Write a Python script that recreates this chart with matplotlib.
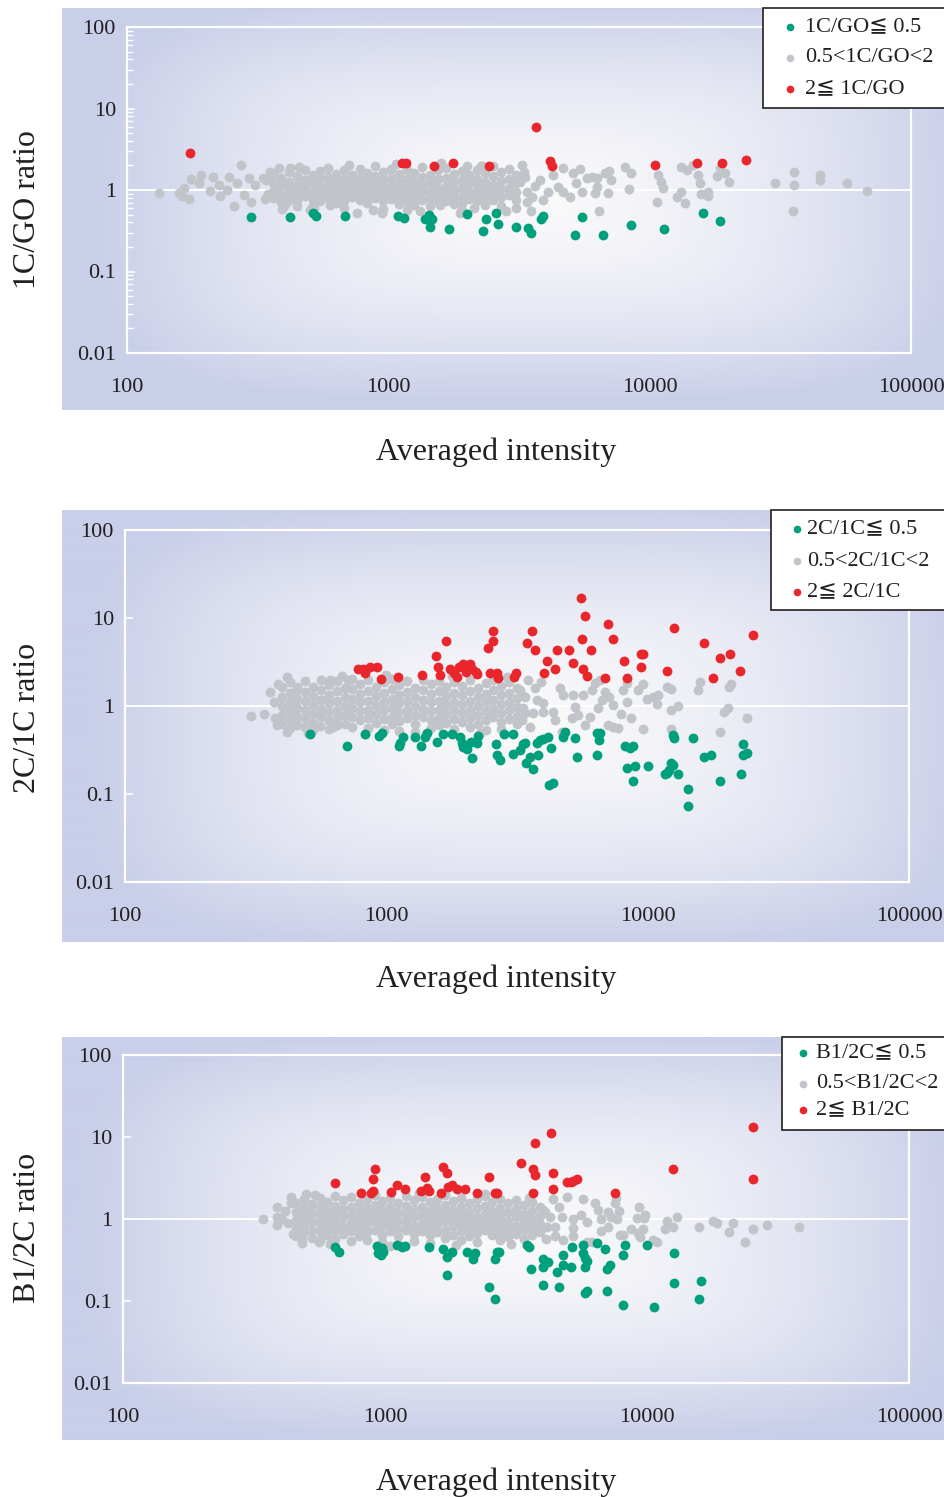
import numpy as np
import matplotlib
matplotlib.use("Agg")
import matplotlib.pyplot as plt
from matplotlib.lines import Line2D
from matplotlib.patches import Rectangle
from matplotlib.ticker import LogLocator, NullLocator

# ---------------------------------------------------------------
# DATA (log10 of averaged intensity, log10 of ratio)
# ---------------------------------------------------------------
x_ticks = [100, 1000, 10000, 100000]
x_tick_labels = ["100", "1000", "10000", "100000"]
y_ticks = [0.01, 0.1, 1, 10, 100]
y_tick_labels = ["0.01", "0.1", "1", "10", "100"]

# ---------- Panel 1 : 1C/GO ----------
p1_red_lx = [2.242, 3.052, 3.068, 3.175, 3.248, 3.385, 3.565, 3.619, 3.627, 4.021, 4.181, 4.277, 4.369]
p1_red_ly = [0.454, 0.331, 0.331, 0.294, 0.331, 0.294, 0.773, 0.356, 0.294, 0.307, 0.331, 0.331, 0.368]
p1_green_lx = [2.475, 2.624, 2.712, 2.723, 2.834, 3.037, 3.060, 3.140, 3.156, 3.167, 3.160, 3.232, 3.301,
               3.374, 3.412, 3.420, 3.362, 3.489, 3.535, 3.546, 3.584, 3.592, 3.741, 3.714, 3.822, 3.929,
               4.055, 4.204, 4.269]
p1_green_ly = [-0.331, -0.331, -0.282, -0.319, -0.319, -0.319, -0.344, -0.356, -0.307, -0.356, -0.454, -0.479,
               -0.294, -0.356, -0.282, -0.417, -0.503, -0.454, -0.466, -0.528, -0.356, -0.319, -0.331, -0.552,
               -0.552, -0.429, -0.479, -0.282, -0.380]
p1_gray_lx = [2.122, 2.199, 2.210, 2.237, 2.218, 2.245, 2.283, 2.276, 2.318, 2.329, 2.352, 2.356, 2.390, 2.383,
              2.409, 2.436, 2.421, 2.448, 2.475, 2.467, 2.490, 2.520, 2.528, 2.547, 2.563, 2.593, 2.624, 2.612,
              2.639, 3.301, 3.355, 2.880, 2.976, 2.777, 3.274, 3.328, 3.198, 3.072, 2.716,
              3.512, 3.523, 3.504, 3.531, 3.550, 3.546, 3.581, 3.592, 3.630, 3.669, 3.611, 3.649, 3.669, 3.707,
              3.695, 3.734, 3.718, 3.741, 3.760, 3.780, 3.799, 3.799, 3.791, 3.806, 3.829, 3.845, 3.852, 3.841,
              3.906, 3.929, 3.921, 4.028, 4.032, 4.044, 4.051, 4.105, 4.120, 4.120, 4.135, 4.143, 4.166, 4.185,
              4.193, 4.197, 4.223, 4.223, 4.258, 4.269, 4.289, 4.304, 4.480, 4.553, 4.553, 4.549, 4.652, 4.652,
              4.755, 4.832,
              2.53, 2.54, 2.58, 2.60, 2.66, 2.70, 2.85, 2.94, 3.03, 3.12, 3.20, 3.36, 3.45, 3.52, 3.53, 3.56]
p1_gray_ly = [-0.037, -0.037, -0.074, -0.110, 0.025, 0.135, 0.184, 0.086, -0.012, 0.160, 0.061, -0.074, 0.160, 0.0,
              -0.196, 0.307, 0.086, -0.061, -0.147, 0.147, 0.061, 0.147, -0.110, 0.221, 0.0, -0.233, 0.270, -0.147,
              -0.110, 0.294, 0.294, -0.282, -0.282, -0.184, -0.282, -0.221, -0.184, -0.245, -0.221,
              0.307, 0.160, 0.098, -0.025, -0.086, -0.258, 0.123, -0.123, 0.184, 0.270, -0.025, 0.037, -0.025, 0.209,
              -0.086, 0.258, 0.086, -0.025, 0.147, 0.160, 0.147, 0.037, -0.037, -0.258, 0.209, 0.233, 0.123, -0.037,
              0.282, 0.209, 0.012, -0.147, 0.184, 0.098, 0.025, -0.086, 0.282, -0.025, -0.160, 0.245, 0.307, 0.184,
              0.086, -0.049, -0.025, -0.074, 0.172, 0.270, 0.209, 0.098, 0.086, 0.221, 0.061, -0.258, 0.184, 0.123,
              0.086, -0.012,
              0.12, -0.05, 0.27, -0.20, 0.28, -0.24, 0.31, -0.25, 0.32, -0.26, 0.33, 0.30, -0.26, 0.22, -0.15, 0.05]
# dense core of the grey cloud: (log10 intensity, log10 ratios)
p1_gray_core = [
    (2.56, [0.20, 0.08, -0.02, -0.10]), (2.59, [0.15, 0.05, -0.06, -0.15]),
    (2.62, [0.22, 0.10, 0.00, -0.08]), (2.65, [0.17, 0.06, -0.04, -0.12, -0.20]),
    (2.68, [0.25, 0.12, 0.02, -0.07]), (2.71, [0.19, 0.08, -0.02, -0.11, -0.18]),
    (2.74, [0.23, 0.13, 0.03, -0.06, -0.14]), (2.77, [0.27, 0.16, 0.06, -0.03, -0.10]),
    (2.80, [0.20, 0.10, 0.00, -0.08, -0.16]), (2.83, [0.24, 0.14, 0.04, -0.05, -0.13, -0.22]),
    (2.86, [0.18, 0.08, -0.01, -0.09]), (2.89, [0.26, 0.15, 0.05, -0.04, -0.12]),
    (2.92, [0.21, 0.11, 0.01, -0.07, -0.16]), (2.95, [0.29, 0.17, 0.07, -0.02, -0.10]),
    (2.98, [0.22, 0.12, 0.03, -0.06, -0.14, -0.23]), (3.01, [0.26, 0.15, 0.05, -0.03, -0.11]),
    (3.04, [0.20, 0.09, 0.00, -0.08, -0.17]), (3.07, [0.25, 0.14, 0.04, -0.05, -0.13]),
    (3.10, [0.21, 0.10, 0.01, -0.09, -0.19]), (3.13, [0.28, 0.16, 0.06, -0.03, -0.12]),
    (3.16, [0.19, 0.09, -0.01, -0.10, -0.20]), (3.19, [0.24, 0.13, 0.03, -0.06, -0.14]),
    (3.22, [0.27, 0.15, 0.05, -0.04, -0.13]), (3.25, [0.20, 0.10, 0.00, -0.09, -0.17]),
    (3.28, [0.23, 0.12, 0.02, -0.07, -0.16, -0.25]), (3.31, [0.18, 0.08, -0.02, -0.11]),
    (3.34, [0.25, 0.14, 0.04, -0.05, -0.14]), (3.37, [0.21, 0.10, 0.00, -0.08, -0.18]),
    (3.40, [0.30, 0.17, 0.06, -0.04, -0.12]), (3.43, [0.22, 0.11, 0.01, -0.09, -0.20]),
    (3.46, [0.26, 0.13, 0.03, -0.06]), (3.49, [0.19, 0.08, -0.03, -0.12, -0.22]),
]

# ---------- Panel 2 : 2C/1C ----------
p2_red_lx = [2.892, 2.911, 2.938, 2.964, 2.918, 2.980, 3.045, 3.137, 3.190, 3.198, 3.206, 3.228, 3.244, 3.259,
             3.271, 3.278, 3.294, 3.305, 3.320, 3.328, 3.343, 3.347, 3.397, 3.424, 3.427, 3.408, 3.408, 3.389,
             3.496, 3.489, 3.538, 3.558, 3.745, 3.760, 3.848, 3.569, 3.653, 3.699, 3.749, 3.783, 3.868, 3.615,
             3.715, 3.646, 3.753, 3.768, 3.604, 3.837, 3.921, 3.910, 3.975, 3.982, 3.975, 4.074, 4.101, 4.216,
             4.277, 4.315, 4.354, 4.250, 4.403]
p2_red_ly = [0.420, 0.420, 0.443, 0.443, 0.375, 0.307, 0.330, 0.352, 0.568, 0.443, 0.352, 0.739, 0.420, 0.375,
             0.330, 0.443, 0.477, 0.386, 0.477, 0.420, 0.386, 0.364, 0.375, 0.375, 0.318, 0.852, 0.739, 0.659,
             0.375, 0.330, 0.716, 0.852, 1.227, 1.023, 0.932, 0.636, 0.636, 0.636, 0.761, 0.636, 0.761, 0.511,
             0.489, 0.420, 0.420, 0.341, 0.375, 0.318, 0.318, 0.511, 0.591, 0.591, 0.443, 0.398, 0.886, 0.716,
             0.545, 0.591, 0.398, 0.318, 0.807]
p2_green_lx = [2.708, 2.850, 2.918, 2.972, 2.984, 3.064, 3.049, 3.052, 3.110, 3.133, 3.148, 3.156, 3.194, 3.217,
               3.251, 3.282, 3.290, 3.294, 3.309, 3.324, 3.347, 3.351, 3.328, 3.420, 3.424, 3.435, 3.450, 3.485,
               3.485, 3.523, 3.512, 3.535, 3.550, 3.531, 3.561, 3.577, 3.588, 3.600, 3.619, 3.581, 3.630, 3.623,
               3.638, 3.676, 3.684, 3.722, 3.730, 3.806, 3.818, 3.814, 3.806, 3.914, 3.933, 3.944, 3.921, 3.952,
               3.944, 4.002, 4.090, 4.097, 4.082, 4.074, 4.067, 4.116, 4.097, 4.101, 4.174, 4.155, 4.155, 4.216,
               4.243, 4.277, 4.365, 4.365, 4.380, 4.357]
p2_green_ly = [-0.318, -0.455, -0.318, -0.341, -0.307, -0.352, -0.455, -0.420, -0.352, -0.455, -0.352, -0.307,
               -0.409, -0.318, -0.318, -0.352, -0.420, -0.466, -0.489, -0.409, -0.420, -0.341, -0.591, -0.432,
               -0.557, -0.614, -0.318, -0.318, -0.545, -0.432, -0.500, -0.648, -0.580, -0.420, -0.716, -0.420,
               -0.386, -0.375, -0.352, -0.557, -0.477, -0.898, -0.875, -0.352, -0.295, -0.364, -0.580, -0.307,
               -0.307, -0.386, -0.557, -0.455, -0.477, -0.455, -0.705, -0.682, -0.852, -0.682, -0.648, -0.670,
               -0.727, -0.761, -0.773, -0.773, -0.330, -0.364, -0.364, -0.943, -1.136, -0.580, -0.557, -0.852,
               -0.432, -0.557, -0.534, -0.773]
p2_gray_lx = [2.482, 2.532, 2.555, 2.586, 2.620, 2.658, 2.574, 2.593, 2.689, 2.746, 2.785, 2.796, 2.853,
              3.542, 3.592, 3.512, 3.569, 3.531, 3.577, 3.600, 3.523, 3.561, 3.600, 3.519, 3.550, 3.638, 3.646,
              3.672, 3.665, 3.676, 3.715, 3.722, 3.711, 3.734, 3.753, 3.760, 3.787, 3.799, 3.818, 3.780, 3.810,
              3.825, 3.837, 3.852, 3.868, 3.848, 3.868, 3.887, 3.898, 3.906, 3.921, 3.921, 3.936, 3.963, 3.982,
              3.982, 3.998, 4.021, 4.040, 4.036, 4.074, 4.090, 4.090, 4.090, 4.116, 4.201, 4.193, 4.319, 4.312,
              4.308, 4.292, 4.380, 4.277,
              2.57, 2.58, 2.62, 2.70, 2.83, 2.92, 3.00, 3.15, 3.25, 3.36, 3.46, 3.52, 3.53]
p2_gray_ly = [-0.114, -0.091, 0.159, 0.250, -0.295, 0.216, -0.136, -0.193, -0.239, -0.227, 0.295, -0.239, 0.295,
              0.295, 0.273, 0.182, 0.205, 0.102, 0.068, 0.034, -0.023, -0.080, -0.068, -0.159, -0.239, -0.068,
              -0.159, -0.295, 0.205, 0.125, 0.125, -0.011, -0.136, -0.102, 0.125, -0.216, 0.182, 0.261, 0.295,
              -0.125, -0.023, 0.068, 0.159, 0.102, 0.011, -0.216, -0.239, -0.250, -0.091, 0.182, 0.261, 0.045,
              -0.136, 0.182, 0.250, -0.261, 0.080, 0.102, 0.125, 0.023, 0.216, 0.193, -0.045, -0.261, 0.0, 0.273,
              0.182, 0.250, 0.216, -0.023, -0.068, -0.136, -0.295,
              0.05, -0.22, 0.33, -0.31, 0.34, -0.32, 0.35, -0.32, 0.34, -0.31, 0.33, 0.12, -0.08]
p2_gray_core = [
    (2.60, [0.22, 0.10, 0.00, -0.10, -0.20]), (2.63, [0.27, 0.15, 0.05, -0.05, -0.15, -0.25]),
    (2.66, [0.18, 0.08, -0.02, -0.12, -0.22]), (2.69, [0.28, 0.16, 0.06, -0.04, -0.14]),
    (2.72, [0.22, 0.11, 0.01, -0.09, -0.19, -0.27]), (2.75, [0.30, 0.18, 0.07, -0.03, -0.13]),
    (2.78, [0.24, 0.13, 0.03, -0.07, -0.17, -0.26]), (2.81, [0.28, 0.17, 0.06, -0.04, -0.14, -0.22]),
    (2.84, [0.21, 0.10, 0.00, -0.10, -0.20]), (2.87, [0.31, 0.19, 0.08, -0.02, -0.12, -0.24]),
    (2.90, [0.25, 0.14, 0.04, -0.06, -0.16]), (2.93, [0.29, 0.17, 0.06, -0.04, -0.14, -0.25]),
    (2.96, [0.22, 0.11, 0.01, -0.09, -0.19]), (2.99, [0.27, 0.15, 0.05, -0.05, -0.15, -0.27]),
    (3.02, [0.31, 0.19, 0.08, -0.02, -0.12, -0.21]), (3.05, [0.24, 0.13, 0.03, -0.07, -0.17, -0.28]),
    (3.08, [0.28, 0.16, 0.06, -0.04, -0.14]), (3.11, [0.21, 0.10, 0.00, -0.10, -0.20, -0.29]),
    (3.14, [0.30, 0.18, 0.07, -0.03, -0.13]), (3.17, [0.25, 0.14, 0.04, -0.06, -0.16, -0.25]),
    (3.20, [0.28, 0.17, 0.06, -0.04, -0.14, -0.22]), (3.23, [0.22, 0.11, 0.01, -0.09, -0.19]),
    (3.26, [0.27, 0.15, 0.05, -0.05, -0.15, -0.26]), (3.29, [0.23, 0.12, 0.02, -0.08, -0.18]),
    (3.32, [0.29, 0.17, 0.06, -0.04, -0.14, -0.24]), (3.35, [0.21, 0.10, 0.00, -0.10, -0.20]),
    (3.38, [0.26, 0.14, 0.04, -0.06, -0.16, -0.27]), (3.41, [0.30, 0.18, 0.07, -0.03, -0.13]),
    (3.44, [0.23, 0.12, 0.02, -0.08, -0.18, -0.26]), (3.47, [0.27, 0.15, 0.05, -0.05, -0.15]),
    (3.50, [0.20, 0.09, -0.01, -0.11, -0.21]),
]

# ---------- Panel 3 : B1/2C ----------
p3_red_lx = [2.809, 2.962, 2.954, 2.908, 2.947, 2.954, 3.023, 3.046, 3.076, 3.153, 3.137, 3.160, 3.168, 3.221,
             3.237, 3.214, 3.240, 3.256, 3.275, 3.305, 3.351, 3.397, 3.420, 3.427, 3.519, 3.565, 3.573, 3.565,
             3.573, 3.634, 3.641, 3.641, 3.695, 3.710, 3.718, 3.733, 3.878, 4.099, 4.405, 4.405]
p3_red_ly = [0.439, 0.610, 0.488, 0.317, 0.317, 0.341, 0.329, 0.415, 0.366, 0.512, 0.341, 0.378, 0.341, 0.634,
             0.561, 0.317, 0.390, 0.415, 0.366, 0.366, 0.317, 0.512, 0.317, 0.317, 0.683, 0.610, 0.537, 0.317,
             0.927, 1.049, 0.561, 0.366, 0.451, 0.451, 0.463, 0.488, 0.317, 0.610, 1.122, 0.488]
p3_green_lx = [2.809, 2.824, 2.969, 2.989, 2.992, 2.985, 2.973, 3.046, 3.065, 3.076, 3.168, 3.221, 3.256, 3.237,
               3.237, 3.313, 3.344, 3.336, 3.427, 3.435, 3.420, 3.397, 3.420, 3.542, 3.550, 3.557, 3.603, 3.603,
               3.622, 3.603, 3.664, 3.656, 3.679, 3.679, 3.710, 3.714, 3.756, 3.756, 3.763, 3.771, 3.763, 3.763,
               3.771, 3.809, 3.840, 3.847, 3.859, 3.847, 3.908, 3.916, 3.908, 4.000, 4.027, 4.103, 4.103, 4.206,
               4.198]
p3_green_ly = [-0.341, -0.402, -0.329, -0.354, -0.402, -0.439, -0.415, -0.317, -0.341, -0.329, -0.341, -0.366,
               -0.402, -0.463, -0.683, -0.402, -0.415, -0.488, -0.402, -0.402, -0.488, -0.829, -0.976, -0.317,
               -0.341, -0.610, -0.488, -0.585, -0.524, -0.805, -0.829, -0.646, -0.561, -0.439, -0.585, -0.341,
               -0.317, -0.415, -0.476, -0.512, -0.585, -0.902, -0.878, -0.293, -0.366, -0.610, -0.561, -0.878,
               -0.439, -0.317, -1.049, -0.317, -1.073, -0.415, -0.780, -0.756, -0.976]
p3_gray_lx = [2.534, 2.588, 2.588, 2.588, 2.607, 2.641, 2.664, 2.683, 2.683, 2.733, 2.748,
              3.641, 3.695, 3.756, 3.802, 3.664, 3.603, 3.630, 3.676, 3.718, 3.748, 3.771, 3.813, 3.824, 3.851,
              3.863, 3.885, 3.893, 3.882, 3.878, 3.649, 3.718, 3.824, 3.851, 3.718, 3.615, 3.649, 3.679, 3.771,
              3.790, 3.897, 3.908, 3.939, 3.966, 3.973, 3.985, 3.969, 3.962, 3.989, 3.992, 4.023, 4.038, 4.069,
              4.076, 4.099, 4.115, 4.198, 4.252, 4.267, 4.313, 4.328, 4.374, 4.405, 4.458, 4.580,
              2.62, 2.63, 2.64, 2.65, 2.70, 2.79, 2.91, 3.02, 3.13, 3.27, 3.38, 3.48, 3.55, 3.61, 3.62]
p3_gray_ly = [0.0, 0.146, 0.024, -0.073, 0.0, 0.268, -0.122, -0.244, -0.293, 0.293, -0.280,
              0.244, 0.268, 0.244, 0.195, 0.146, 0.110, 0.024, 0.024, 0.0, 0.049, -0.037, 0.110, 0.0, 0.085,
              0.024, 0.0, 0.098, 0.256, 0.195, -0.098, -0.110, -0.146, -0.098, -0.207, -0.244, -0.207, -0.256,
              -0.280, -0.280, -0.195, -0.195, -0.122, -0.171, -0.220, -0.122, 0.146, 0.012, 0.012, 0.049, -0.256,
              -0.280, -0.122, -0.024, -0.098, 0.024, -0.098, -0.024, -0.049, -0.159, -0.049, -0.280, -0.122,
              -0.073, -0.098,
              0.10, -0.05, 0.20, -0.18, 0.31, -0.31, 0.32, -0.33, 0.32, -0.32, 0.30, -0.30, 0.26, 0.08, -0.10]
p3_gray_core = [
    (2.66, [0.20, 0.09, -0.01, -0.11, -0.21]), (2.69, [0.25, 0.14, 0.04, -0.06, -0.16]),
    (2.72, [0.18, 0.07, -0.03, -0.13, -0.23]), (2.75, [0.26, 0.15, 0.05, -0.05, -0.15, -0.25]),
    (2.78, [0.21, 0.10, 0.00, -0.10, -0.20]), (2.81, [0.28, 0.16, 0.06, -0.04, -0.14, -0.24]),
    (2.84, [0.23, 0.12, 0.02, -0.08, -0.18]), (2.87, [0.27, 0.15, 0.05, -0.05, -0.15, -0.27]),
    (2.90, [0.20, 0.09, -0.01, -0.11, -0.21]), (2.93, [0.25, 0.14, 0.04, -0.06, -0.16, -0.26]),
    (2.96, [0.29, 0.17, 0.07, -0.03, -0.13]), (2.99, [0.22, 0.11, 0.01, -0.09, -0.19, -0.28]),
    (3.02, [0.26, 0.15, 0.05, -0.05, -0.15]), (3.05, [0.20, 0.09, -0.01, -0.11, -0.21, -0.30]),
    (3.08, [0.28, 0.16, 0.06, -0.04, -0.14]), (3.11, [0.23, 0.12, 0.02, -0.08, -0.18, -0.27]),
    (3.14, [0.27, 0.15, 0.05, -0.05, -0.15]), (3.17, [0.21, 0.10, 0.00, -0.10, -0.20, -0.29]),
    (3.20, [0.25, 0.14, 0.04, -0.06, -0.16]), (3.23, [0.29, 0.17, 0.07, -0.03, -0.13, -0.23]),
    (3.26, [0.22, 0.11, 0.01, -0.09, -0.19]), (3.29, [0.26, 0.15, 0.05, -0.05, -0.15, -0.26]),
    (3.32, [0.20, 0.09, -0.01, -0.11, -0.21]), (3.35, [0.24, 0.13, 0.03, -0.07, -0.17, -0.28]),
    (3.38, [0.28, 0.16, 0.06, -0.04, -0.14]), (3.41, [0.21, 0.10, 0.00, -0.10, -0.20]),
    (3.44, [0.25, 0.14, 0.04, -0.06, -0.16, -0.25]), (3.47, [0.19, 0.08, -0.02, -0.12, -0.22]),
    (3.50, [0.23, 0.12, 0.02, -0.08, -0.18]), (3.53, [0.17, 0.06, -0.04, -0.14, -0.24]),
    (3.56, [0.21, 0.10, 0.00, -0.10, -0.20]), (3.59, [0.15, 0.04, -0.06, -0.16]),
]

ylabels = ["1C/GO ratio", "2C/1C ratio", "B1/2C ratio"]
xlabel = "Averaged intensity"
legend_labels = [
    ["1C/GO\u2266 0.5", "0.5<1C/GO<2", "2\u2266 1C/GO"],
    ["2C/1C\u2266 0.5", "0.5<2C/1C<2", "2\u2266 2C/1C"],
    ["B1/2C\u2266 0.5", "0.5<B1/2C<2", "2\u2266 B1/2C"],
]

# ---------------------------------------------------------------
# STYLE / LAYOUT
# ---------------------------------------------------------------
W, H = 944, 1497
SERIF = ["Liberation Serif", "DejaVu Serif", "DejaVu Sans"]
TXT = "#231f20"
LAV = np.array([201, 206, 233]) / 255.0
WHT = np.array([249, 249, 250]) / 255.0
C_GRAY = "#c1c4c9"
C_GREEN = "#00a07c"
C_RED = "#e8262b"

fig = plt.figure(figsize=(W / 100, H / 100), dpi=100)
fig.patch.set_facecolor("white")


def fx(px):
    return px / W


def fy(py):
    return 1 - py / H


def rect_px(x0, y0, x1, y1):
    return [fx(x0), fy(y1), fx(x1) - fx(x0), fy(y0) - fy(y1)]


panels = [
    dict(outer=(62, 8, 944, 410), axes=(127, 27, 911, 353), center=(530, 200), rad=(440, 205),
         ylab_y=210, xlab_y=452, leg_box=(763, 8, 960, 108), leg_y=(27, 58, 89), leg_mx=790, leg_tx=805,
         minor=True,
         red=(p1_red_lx, p1_red_ly), green=(p1_green_lx, p1_green_ly),
         gray=(p1_gray_lx, p1_gray_ly), core=p1_gray_core),
    dict(outer=(62, 510, 944, 942), axes=(125, 530, 909, 882), center=(530, 725), rad=(440, 225),
         ylab_y=718, xlab_y=979, leg_box=(771, 510, 960, 610), leg_y=(529, 561, 592), leg_mx=797, leg_tx=807,
         minor=False,
         red=(p2_red_lx, p2_red_ly), green=(p2_green_lx, p2_green_ly),
         gray=(p2_gray_lx, p2_gray_ly), core=p2_gray_core),
    dict(outer=(62, 1037, 944, 1440), axes=(123, 1055, 909, 1383), center=(520, 1235), rad=(440, 205),
         ylab_y=1228, xlab_y=1482, leg_box=(782, 1037, 960, 1130), leg_y=(1053, 1084, 1110), leg_mx=803,
         leg_tx=816, minor=False,
         red=(p3_red_lx, p3_red_ly), green=(p3_green_lx, p3_green_ly),
         gray=(p3_gray_lx, p3_gray_ly), core=p3_gray_core),
]

MS = 50  # scatter size (pt^2)

for i, p in enumerate(panels):
    ox0, oy0, ox1, oy1 = p["outer"]
    # gradient background
    bg = fig.add_axes(rect_px(*p["outer"]), zorder=0)
    bg.axis("off")
    nx, ny = 441, 201
    X, Y = np.meshgrid(np.linspace(ox0, ox1, nx), np.linspace(oy0, oy1, ny))
    cx, cy = p["center"]
    rx, ry = p["rad"]
    d = ((np.abs(X - cx) / rx) ** 4 + (np.abs(Y - cy) / ry) ** 4) ** (1 / 4)
    t = np.clip(d, 0, 1) ** 1.6
    img = WHT[None, None, :] * (1 - t[..., None]) + LAV[None, None, :] * t[..., None]
    bg.imshow(img, extent=[0, 1, 0, 1], aspect="auto", origin="upper", interpolation="bilinear")

    ax = fig.add_axes(rect_px(*p["axes"]), zorder=2)
    ax.set_facecolor("none")
    ax.set_xscale("log")
    ax.set_yscale("log")
    ax.set_xlim(100, 100000)
    ax.set_ylim(0.01, 100)
    for s in ax.spines.values():
        s.set_color("white")
        s.set_linewidth(1.6)
    ax.axhline(1, color="white", lw=1.4, zorder=1)

    core_x = [c[0] for c in p["core"] for _ in c[1]]
    core_y = [v for c in p["core"] for v in c[1]]
    gx = np.power(10.0, np.array(list(p["gray"][0]) + core_x))
    gy = np.power(10.0, np.array(list(p["gray"][1]) + core_y))
    ax.scatter(gx, gy, s=MS, c=C_GRAY, linewidths=0, zorder=3)
    ax.scatter(np.power(10.0, p["green"][0]), np.power(10.0, p["green"][1]), s=MS, c=C_GREEN,
               linewidths=0, zorder=4)
    ax.scatter(np.power(10.0, p["red"][0]), np.power(10.0, p["red"][1]), s=MS, c=C_RED,
               linewidths=0, zorder=4)

    ax.set_xticks(x_ticks)
    ax.set_xticklabels(x_tick_labels)
    ax.xaxis.set_minor_locator(NullLocator())
    ax.set_yticks(y_ticks)
    ax.set_yticklabels(y_tick_labels)
    if p["minor"]:
        ax.yaxis.set_minor_locator(LogLocator(base=10, subs=np.arange(2, 10)))
    else:
        ax.yaxis.set_minor_locator(NullLocator())
    ax.tick_params(axis="x", length=0, pad=18, labelsize=16, labelcolor=TXT)
    ax.tick_params(axis="y", which="major", direction="in", length=6, width=1.2, color="white",
                   pad=8, labelsize=16, labelcolor=TXT)
    ax.tick_params(axis="y", which="minor", direction="in", length=4, width=1.0, color="white")
    for lab in ax.get_xticklabels() + ax.get_yticklabels():
        lab.set_family(SERIF)

    # axis labels
    fig.text(fx(28), fy(p["ylab_y"]), ylabels[i], rotation=90, ha="center", va="center",
             fontsize=23, family=SERIF, color=TXT)
    fig.text(fx(496), fy(p["xlab_y"]), xlabel, ha="center", va="center",
             fontsize=23, family=SERIF, color=TXT)

    # legend box (clipped by right figure edge as in original)
    lx0, ly0, lx1, ly1 = p["leg_box"]
    fig.add_artist(Rectangle((fx(lx0), fy(ly1)), fx(lx1) - fx(lx0), fy(ly0) - fy(ly1),
                             transform=fig.transFigure, facecolor="white", edgecolor=TXT,
                             linewidth=1.2, zorder=10))
    for lab, col, yy in zip(legend_labels[i], [C_GREEN, C_GRAY, C_RED], p["leg_y"]):
        fig.add_artist(Line2D([fx(p["leg_mx"])], [fy(yy)], marker="o", markersize=4.5, color=col,
                              linestyle="none", transform=fig.transFigure, zorder=11))
        fig.text(fx(p["leg_tx"]), fy(yy), lab, ha="left", va="center", fontsize=16,
                 family=SERIF, color=TXT, zorder=11)

fig.savefig("out.png", dpi=100)
